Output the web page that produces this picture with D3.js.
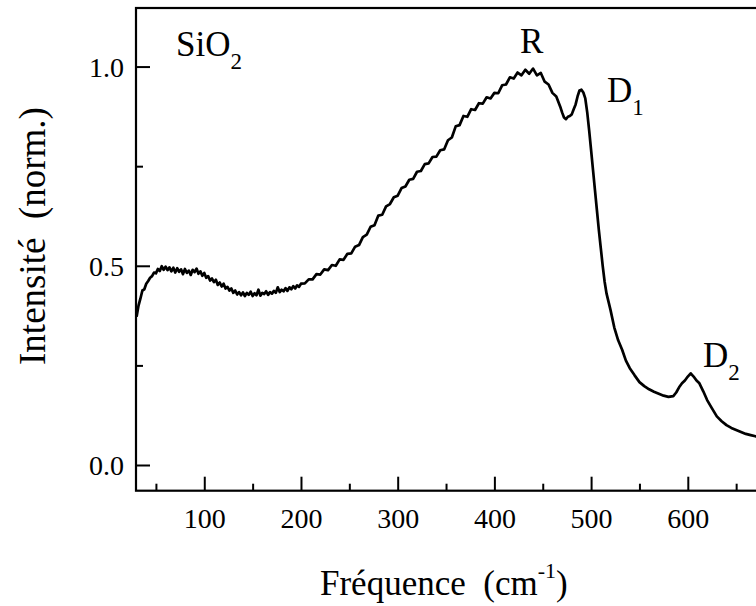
<!DOCTYPE html>
<html>
<head>
<meta charset="utf-8">
<script src="https://cdn.jsdelivr.net/npm/d3@7"></script>
<style>
  html, body { margin: 0; padding: 0; background: #fff; }
  svg { display: block; font-family: "Liberation Serif", "Times New Roman", serif; }
</style>
</head>
<body>
<svg id="chart" width="756" height="606"></svg>
<script>
// ---- data ----
const wavenumber = [
  30,32,34,36,38,40,42,44,46,48,50,52,54,56,58,60,62,64,66,68,70,72,74,76,78,80,82,84,86,88,90,92,94,96,98,
  100,102,104,106,108,110,112,114,116,118,120,122,124,126,128,130,132,134,136,138,140,142,144,146,148,150,
  152,154,156,158,160,162,164,166,168,170,172,174,176,178,180,182,184,186,188,190,192,194,196,198,200,
  204,208,212,216,220,224,228,232,236,240,244,248,252,256,260,264,268,272,276,280,284,288,292,296,300,
  304,308,312,316,320,324,328,332,336,340,344,348,352,356,360,364,368,372,376,380,384,388,392,396,400,
  404,408,412,416,420,424,428,432,436,440,444,448,452,456,460,464,468,
  470,472,474,476,478,480,482,484,486,488,490,492,494,496,498,500,502,504,506,508,510,512,514,516,518,520,
  524,528,532,536,540,545,550,555,560,565,570,575,580,585,588,591,594,597,600,603,606,609,612,616,620,
  625,630,635,640,645,650,655,660,665,670,675,680
];
const intensity = [
  0.372,0.400,0.418,0.438,0.441,0.455,0.462,0.470,0.474,0.483,0.481,0.492,0.487,0.499,0.490,0.498,0.489,0.496,0.486,0.495,
  0.483,0.494,0.485,0.491,0.479,0.492,0.482,0.488,0.477,0.490,0.484,0.493,0.480,0.486,0.475,
  0.482,0.470,0.474,0.463,0.468,0.459,0.465,0.452,0.458,0.448,0.455,0.443,0.447,0.438,0.443,0.432,0.438,0.428,0.434,0.426,
  0.433,0.424,0.432,0.427,0.435,0.424,
  0.431,0.426,0.440,0.425,0.432,0.429,0.436,0.427,0.434,0.430,0.437,0.432,0.446,0.434,0.440,0.436,0.444,0.437,0.446,
  0.441,0.449,0.443,0.451,0.447,0.455,
  0.456,0.466,0.466,0.479,0.478,0.491,0.489,0.502,0.500,0.516,0.515,0.530,0.531,0.548,0.552,0.572,0.578,0.598,0.602,
  0.626,0.628,0.649,0.655,0.672,0.676,
  0.695,0.699,0.716,0.718,0.736,0.738,0.755,0.757,0.773,0.774,0.790,0.792,0.815,0.822,0.850,0.853,0.876,0.874,0.893,
  0.891,0.908,0.907,0.923,0.920,0.934,
  0.933,0.953,0.955,0.973,0.970,0.985,0.978,0.992,0.982,0.995,0.978,0.984,0.962,0.955,0.934,0.925,0.900,
  0.885,0.872,0.868,0.874,0.876,0.880,0.893,0.905,0.925,0.940,0.942,0.935,0.920,0.885,0.840,0.790,0.740,0.690,0.640,
  0.590,0.545,0.500,0.460,0.430,0.410,0.390,
  0.345,0.313,0.290,0.262,0.243,0.225,0.208,0.198,0.190,0.184,0.179,0.174,0.171,0.173,0.182,0.195,0.205,0.212,0.222,
  0.230,0.222,0.212,0.205,0.185,0.163,
  0.142,0.122,0.110,0.100,0.093,0.088,0.083,0.078,0.075,0.072,0.070,0.069
];
const xMajorTicks = [100, 200, 300, 400, 500, 600];
const xMinorTicks = [50, 150, 250, 350, 450, 550, 650];
const yMajorTicks = [0.0, 0.5, 1.0];
const yMinorTicks = [0.25, 0.75];
const xDomain = [29.4, 685];
const yDomain = [-0.0645, 1.147];
const xTitle = "Fréquence\u00A0\u00A0(cm";
const yTitle = "Intensité\u00A0\u00A0(norm.)";
const peakLabels = [
  { main: "SiO", sub: "2" },
  { main: "R", sub: "" },
  { main: "D", sub: "1" },
  { main: "D", sub: "2" }
];
const peakLabelPos = [[176, 56], [520, 53], [607, 102], [703, 367]];

// ---- drawing ----
const svg = d3.select("#chart");
const mLeft = 136, mRight = 770, mTop = 8, mBottom = 490.7;
const x = d3.scaleLinear().domain(xDomain).range([mLeft, mRight]);
const y = d3.scaleLinear().domain(yDomain).range([mBottom, mTop]);

const black = "#000";
const tickFont = 28;

// frame
svg.append("rect")
  .attr("x", mLeft).attr("y", mTop)
  .attr("width", mRight - mLeft).attr("height", mBottom - mTop)
  .attr("fill", "none").attr("stroke", black).attr("stroke-width", 2.2);

// x axis (ticks inward)
svg.append("g").attr("transform", `translate(0,${mBottom})`)
  .call(d3.axisBottom(x).tickValues(xMajorTicks).tickSize(-14).tickPadding(0).tickFormat(d3.format("d")))
  .call(g => g.select(".domain").remove())
  .call(g => g.selectAll(".tick line").attr("stroke", black).attr("stroke-width", 2))
  .call(g => g.selectAll(".tick text").attr("fill", black).attr("font-size", tickFont)
     .attr("font-family", "Liberation Serif").attr("y", 37).attr("dy", 0));
svg.append("g").attr("transform", `translate(0,${mBottom})`)
  .call(d3.axisBottom(x).tickValues(xMinorTicks).tickSize(-7).tickFormat(""))
  .call(g => g.select(".domain").remove())
  .call(g => g.selectAll(".tick line").attr("stroke", black).attr("stroke-width", 2));

// y axis (ticks inward)
svg.append("g").attr("transform", `translate(${mLeft},0)`)
  .call(d3.axisLeft(y).tickValues(yMajorTicks).tickSize(-14).tickPadding(0).tickFormat(d3.format(".1f")))
  .call(g => g.select(".domain").remove())
  .call(g => g.selectAll(".tick line").attr("stroke", black).attr("stroke-width", 2))
  .call(g => g.selectAll(".tick text").attr("fill", black).attr("font-size", tickFont)
     .attr("font-family", "Liberation Serif").attr("x", -12).attr("dy", "0.34em"));
svg.append("g").attr("transform", `translate(${mLeft},0)`)
  .call(d3.axisLeft(y).tickValues(yMinorTicks).tickSize(-7).tickFormat(""))
  .call(g => g.select(".domain").remove())
  .call(g => g.selectAll(".tick line").attr("stroke", black).attr("stroke-width", 2));

// curve
const pts = wavenumber.map((w, i) => [w, intensity[i]]);
svg.append("path")
  .datum(pts)
  .attr("fill", "none")
  .attr("stroke", black)
  .attr("stroke-width", 2.7)
  .attr("stroke-linejoin", "round")
  .attr("d", d3.line().x(d => x(d[0])).y(d => y(d[1])));

// axis titles
const xt = svg.append("text")
  .attr("x", 320).attr("y", 595)
  .attr("font-size", 35).attr("fill", black);
xt.append("tspan").text(xTitle);
xt.append("tspan").attr("font-size", 22).attr("dy", -17).text("-1");
xt.append("tspan").attr("dy", 17).text(")");

svg.append("text")
  .attr("transform", "translate(45,236) rotate(-90)")
  .attr("text-anchor", "middle")
  .attr("font-size", 37).attr("fill", black)
  .text(yTitle);

// peak labels
peakLabels.forEach((lab, i) => {
  const t = svg.append("text")
    .attr("x", peakLabelPos[i][0]).attr("y", peakLabelPos[i][1])
    .attr("font-size", 35).attr("fill", black);
  t.append("tspan").text(lab.main);
  if (lab.sub) t.append("tspan").attr("font-size", 23).attr("dy", 13).text(lab.sub);
});
</script>
</body>
</html>
